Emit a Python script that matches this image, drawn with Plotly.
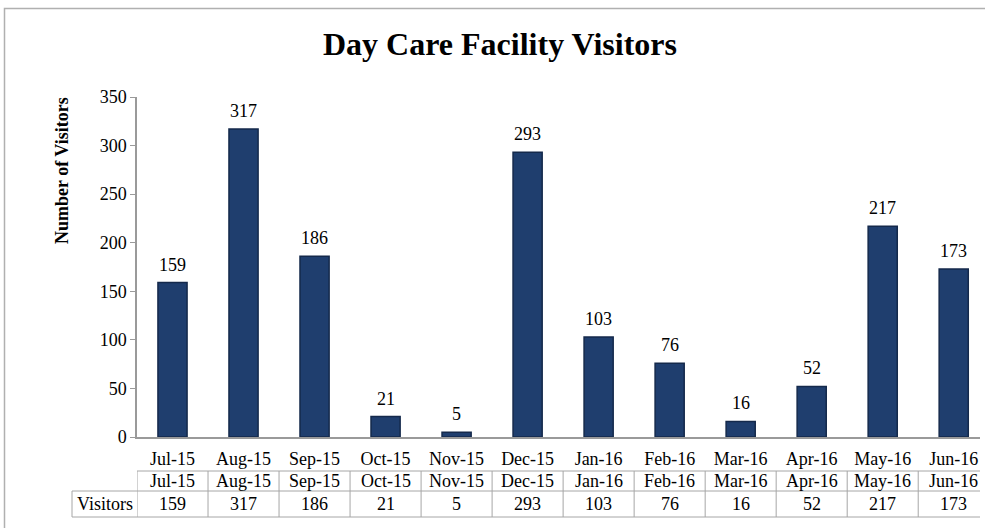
import plotly.graph_objects as go

months = ["Jul-15", "Aug-15", "Sep-15", "Oct-15", "Nov-15", "Dec-15",
          "Jan-16", "Feb-16", "Mar-16", "Apr-16", "May-16", "Jun-16"]
visitors = [159, 317, 186, 21, 5, 293, 103, 76, 16, 52, 217, 173]
y_ticks = [0, 50, 100, 150, 200, 250, 300, 350]
title_text = "Day Care Facility Visitors"
y_title = "Number of Visitors"
row_label = "Visitors"

FONT = "Liberation Serif, Times New Roman, serif"
FS = 18
W, H = 985, 528
ML, MR, MT, MB = 137, 5, 97, 91
plot_h = H - MT - MB


def py(p):
    # pixel y -> paper y
    return (H - MB - p) / plot_h


def px(p):
    return (p - ML) / (W - ML - MR)


def txt(**kw):
    d = dict(showarrow=False, xanchor="center", yanchor="middle",
             font=dict(family=FONT, size=FS, color="#000"))
    d.update(kw)
    return d


fig = go.Figure()
fig.add_trace(go.Bar(
    x=list(range(len(months))), y=visitors,
    width=0.41,
    marker=dict(color="#1f3e6e", line=dict(color="#14294b", width=1.5)),
    hoverinfo="skip",
))

shapes = []
annotations = []
line_col = "#a6a6a6"
top, mid, bot = py(471), py(491), py(517)
for yy in (top, mid, bot):
    shapes.append(dict(type="line", xref="paper", yref="paper", x0=0, x1=1,
                       y0=yy, y1=yy, line=dict(color=line_col, width=1)))
shapes.append(dict(type="line", xref="paper", yref="paper", x0=px(72), x1=0,
                   y0=mid, y1=mid, line=dict(color=line_col, width=1)))
shapes.append(dict(type="line", xref="paper", yref="paper", x0=px(72), x1=0,
                   y0=bot, y1=bot, line=dict(color=line_col, width=1)))
shapes.append(dict(type="line", xref="paper", yref="paper", x0=px(72), x1=px(72),
                   y0=mid, y1=bot, line=dict(color=line_col, width=1)))
for i in range(len(months) + 1):
    shapes.append(dict(type="line", xref="x", yref="paper", x0=i - 0.5, x1=i - 0.5,
                       y0=top, y1=bot, line=dict(color=line_col, width=1)))
shapes.append(dict(type="rect", xref="paper", yref="paper",
                   x0=px(4.5), x1=px(1000), y0=py(8.5), y1=py(540),
                   line=dict(color="#b0b0b0", width=1.5), layer="below"))

for i, (m, v) in enumerate(zip(months, visitors)):
    annotations.append(txt(x=i, y=v, xref="x", yref="y", text=str(v), yshift=18))
    annotations.append(txt(x=i, y=py(481), xref="x", yref="paper", text=m))
    annotations.append(txt(x=i, y=py(504), xref="x", yref="paper", text=str(v)))
annotations.append(txt(x=px(104.5), y=py(504), xref="paper", yref="paper", text=row_label))
annotations.append(txt(x=px(62), y=py(171), xref="paper", yref="paper",
                       text="<b>" + y_title + "</b>", textangle=-90,
                       font=dict(family=FONT, size=18, color="#000")))
annotations.append(txt(x=px(500), y=py(44), xref="paper", yref="paper",
                       text="<b>" + title_text + "</b>",
                       font=dict(family=FONT, size=32, color="#000")))

fig.update_layout(
    width=W, height=H,
    margin=dict(l=ML, r=MR, t=MT, b=MB),
    paper_bgcolor="white", plot_bgcolor="white",
    showlegend=False,
    shapes=shapes, annotations=annotations,
    xaxis=dict(range=[-0.5, 11.37], tickmode="array", tickvals=list(range(len(months))),
               ticktext=months, showgrid=False, zeroline=False,
               showline=True, linecolor="#9a9a9a", linewidth=1.5,
               ticks="outside", ticklen=5, tickcolor="rgba(0,0,0,0)",
               tickfont=dict(family=FONT, size=FS, color="#000"), fixedrange=True),
    yaxis=dict(range=[0, 350], tickvals=y_ticks, showgrid=False, zeroline=False,
               showline=True, linecolor="#9a9a9a", linewidth=1.5,
               ticks="outside", ticklen=5, tickcolor="#9a9a9a",
               tickfont=dict(family=FONT, size=FS, color="#000"), fixedrange=True),
)

fig.write_html("out.html", config={"displayModeBar": False},
               post_script="document.body.style.margin='0';document.body.style.overflow='hidden';")
